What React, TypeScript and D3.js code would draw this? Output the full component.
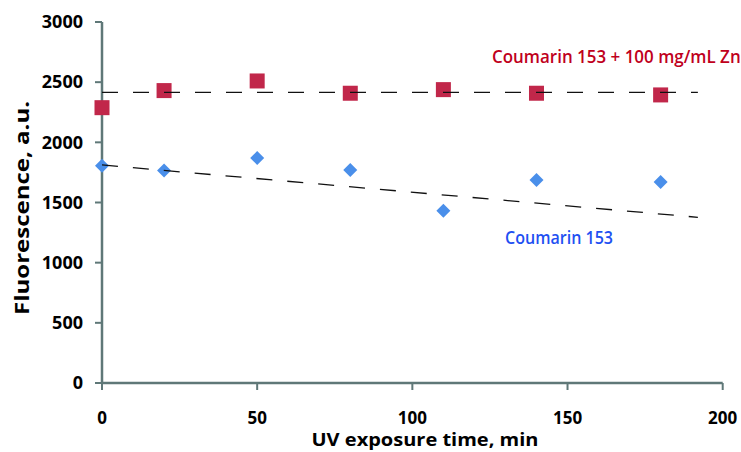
import React, { useEffect, useRef } from 'react';
import * as d3 from 'd3';

const timesMin = [0, 20, 50, 80, 110, 140, 180];
const coumarinZnO = [2288, 2430, 2510, 2408, 2438, 2408, 2394];
const coumarin = [1806, 1765, 1870, 1770, 1432, 1687, 1671];

// trend lines as drawn in the figure (start / end)
const trendTimes = [0, 192];
const trendZnO = [2416, 2416];
const trendCoumarin = [1812, 1377];

const xTicks = [0, 50, 100, 150, 200];
const yTicks = [0, 500, 1000, 1500, 2000, 2500, 3000];

const labelZnO = 'Coumarin 153 + 100 mg/mL ZnO';
const labelCoumarin = 'Coumarin 153';

function App() {
    const ref = useRef<SVGSVGElement>(null);
    const width = 741, height = 452;

    useEffect(() => {
        const svg = d3.select(ref.current);
        svg.selectAll('*').remove();

        const font = '"Open Sans", "DejaVu Sans", sans-serif';
        const axisColor = '#5f7878';

        const x = d3.scaleLinear().domain([0, 200]).range([102, 722.7]);
        const y = d3.scaleLinear().domain([0, 3000]).range([383, 22]);

        // axes
        svg.append('line')
            .attr('x1', x(0)).attr('x2', x(0))
            .attr('y1', y(0)).attr('y2', y(3000))
            .attr('stroke', axisColor).attr('stroke-width', 2.5);
        svg.append('line')
            .attr('x1', x(0)).attr('x2', x(200))
            .attr('y1', y(0)).attr('y2', y(0))
            .attr('stroke', axisColor).attr('stroke-width', 2.5);

        svg.selectAll('.ytick').data(yTicks).enter().append('line')
            .attr('x1', x(0) - 7).attr('x2', x(0))
            .attr('y1', d => y(d)).attr('y2', d => y(d))
            .attr('stroke', axisColor).attr('stroke-width', 2);
        svg.selectAll('.xtick').data(xTicks).enter().append('line')
            .attr('x1', d => x(d)).attr('x2', d => x(d))
            .attr('y1', y(0)).attr('y2', y(0) + 7)
            .attr('stroke', axisColor).attr('stroke-width', 2);

        svg.selectAll('.ylab').data(yTicks).enter().append('text')
            .attr('x', 83).attr('y', d => y(d))
            .attr('dy', '0.35em')
            .attr('text-anchor', 'end')
            .style('font-family', font).style('font-weight', 700).style('font-size', '18px')
            .attr('fill', '#000')
            .text(d => d);
        svg.selectAll('.xlab').data(xTicks).enter().append('text')
            .attr('x', d => x(d)).attr('y', 424)
            .attr('text-anchor', 'middle')
            .style('font-family', font).style('font-weight', 700).style('font-size', '17px')
            .attr('fill', '#000')
            .text(d => d);

        svg.append('text')
            .attr('x', 425).attr('y', 446)
            .attr('text-anchor', 'middle')
            .attr('textLength', 227).attr('lengthAdjust', 'spacingAndGlyphs')
            .style('font-family', font).style('font-weight', 700).style('font-size', '18px')
            .text('UV exposure time, min');
        svg.append('text')
            .attr('transform', 'translate(29, 208) rotate(-90)')
            .attr('text-anchor', 'middle')
            .attr('textLength', 214).attr('lengthAdjust', 'spacingAndGlyphs')
            .style('font-family', font).style('font-weight', 700).style('font-size', '19px')
            .text('Fluorescence, a.u.');

        // markers
        const sq = 15;
        svg.selectAll('.sq').data(timesMin).enter().append('rect')
            .attr('x', d => x(d) - sq / 2)
            .attr('y', (d, i) => y(coumarinZnO[i]) - sq / 2)
            .attr('width', sq).attr('height', sq)
            .attr('fill', '#c1274a');

        const diamond = d3.symbol().type(d3.symbolDiamond2).size(125);
        svg.selectAll('.dm').data(timesMin).enter().append('path')
            .attr('d', diamond())
            .attr('transform', (d, i) => `translate(${x(d)}, ${y(coumarin[i])})`)
            .attr('fill', '#4a8fea');

        // trend lines
        const line = d3.line<number>().x((d, i) => x(trendTimes[i])).y(d => y(d));
        [trendZnO, trendCoumarin].forEach(t => {
            svg.append('path')
                .attr('d', line(t))
                .attr('fill', 'none')
                .attr('stroke', '#111')
                .attr('stroke-width', 1.3)
                .attr('stroke-dasharray', '16,15');
        });

        // series labels
        svg.append('text')
            .attr('x', 492).attr('y', 63)
            .attr('textLength', 262).attr('lengthAdjust', 'spacingAndGlyphs')
            .style('font-family', font).style('font-weight', 600).style('font-size', '18px')
            .attr('fill', '#c0001c')
            .text(labelZnO);
        svg.append('text')
            .attr('x', 505).attr('y', 244)
            .attr('textLength', 108).attr('lengthAdjust', 'spacingAndGlyphs')
            .style('font-family', font).style('font-weight', 600).style('font-size', '18px')
            .attr('fill', '#1f50f2')
            .text(labelCoumarin);
    }, []);

    return (
        <svg ref={ref} width={width} height={height}
            style={{ position: 'absolute', left: 0, top: 0, background: '#fff' }}></svg>
    );
}

export default App;
